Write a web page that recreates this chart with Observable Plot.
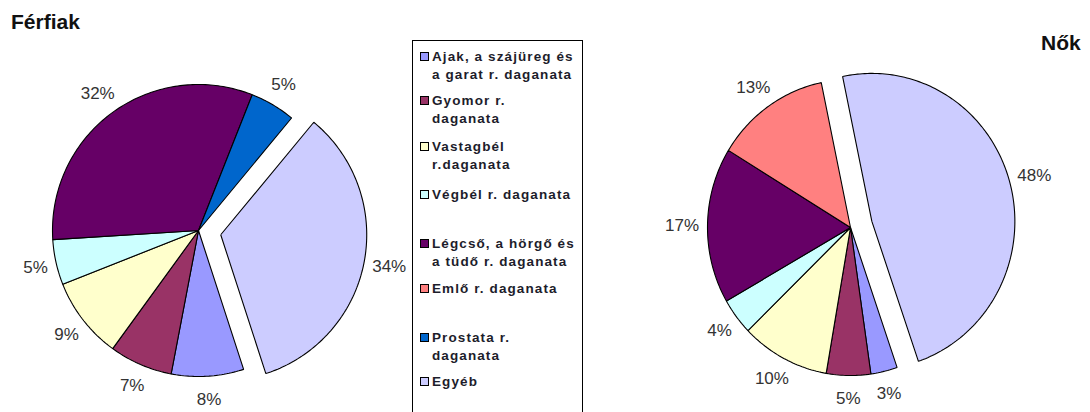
<!DOCTYPE html>
<html><head><meta charset="utf-8">
<script src="https://cdn.jsdelivr.net/npm/d3@7"></script>
<script src="https://cdn.jsdelivr.net/npm/@observablehq/plot@0.6"></script>
<style>
body{margin:0;background:#fff;font-family:"Liberation Sans",Arial,sans-serif;}
#wrap{position:relative;width:1090px;height:412px;overflow:hidden;background:#fff;}
.title{position:absolute;font-weight:bold;font-size:21px;line-height:1;color:#111;}
.pie{position:absolute;top:0;}
#legend{position:absolute;left:412px;top:40px;width:171px;height:390px;border:1px solid #000;box-sizing:border-box;}
.item{position:absolute;left:19px;font-weight:bold;font-size:13.5px;letter-spacing:1.1px;color:#1d1d2b;line-height:17.5px;white-space:nowrap;}
.sw{position:absolute;left:-12px;top:4px;width:7px;height:7px;border:1px solid #000;}
</style></head>
<body><div id="wrap"></div>
<script>
// ---- data ----
const categories = ["Ajak, a szájüreg és a garat r. daganata","Gyomor r. daganata","Vastagbél r.daganata","Végbél r. daganata","Légcső, a hörgő és a tüdő r. daganata","Emlő r. daganata","Prostata r. daganata","Egyéb"];
const legendLines = [["Ajak, a szájüreg és","a garat r. daganata"],["Gyomor r.","daganata"],["Vastagbél","r.daganata"],["Végbél r. daganata"],["Légcső, a hörgő és","a tüdő r. daganata"],["Emlő r. daganata"],["Prostata r.","daganata"],["Egyéb"]];
const colors = ["#9999FF","#993366","#FFFFCC","#CCFFFF","#660066","#FF8080","#0066CC","#CCCCFF"];
const ferfiak = [8,7,9,5,32,0,5,34];
const nok = [3,5,10,4,17,13,0,48];
const exploded = "Egyéb";

// ---- layout ----
const legendTop = [7,51,97,145,194,239,288,332];
const wrap = document.getElementById("wrap");

function drawPie(values, opt){
  const {left, width, cx, cy, rx, ry, startDeg} = opt;
  const start = startDeg*Math.PI/180;
  const arcs = d3.pie().sort(null).startAngle(start).endAngle(start+2*Math.PI)(values);
  const pts = [], labels = [];
  arcs.forEach((a,i)=>{
    if (values[i] <= 0) return;
    const cat = categories[i];
    const mid = (a.startAngle+a.endAngle)/2;
    const off = cat === exploded ? 0.155 : 0;
    const ox = off*Math.sin(mid), oy = off*Math.cos(mid);
    pts.push({cat, x:ox, y:oy});
    const n = Math.max(2, Math.ceil((a.endAngle-a.startAngle)/(Math.PI/180)));
    for (let k=0;k<=n;k++){
      const t = a.startAngle + (a.endAngle-a.startAngle)*k/n;
      pts.push({cat, x:ox+Math.sin(t), y:oy+Math.cos(t)});
    }
    pts.push({cat, x:ox, y:oy});
    const text = values[i]+"%";
    const hw = (text.length===2?13:17.5);   // half label width in px
    const gx = (8+hw)/rx, gy = (16+7)/ry;
    labels.push({x:ox+(1+gx)*Math.sin(mid), y:oy+(1+gy)*Math.cos(mid), text});
  });
  const H = 412;
  const chart = Plot.plot({
    width, height:H, margin:0,
    x:{axis:null, domain:[-(cx-left)/rx, (left+width-cx)/rx]},
    y:{axis:null, domain:[-(H-cy)/ry, cy/ry]},
    color:{domain:categories, range:colors},
    style:{background:"transparent", overflow:"visible"},
    marks:[
      Plot.line(pts,{x:"x", y:"y", z:"cat", fill:"cat", stroke:"#000", strokeWidth:1.1, strokeLinejoin:"miter", strokeLinecap:"butt"}),
      Plot.text(labels,{x:"x", y:"y", text:"text", fontSize:17, fill:"#333", fontFamily:"Liberation Sans, Arial, sans-serif"})
    ]
  });
  chart.classList.add("pie");
  chart.style.left = left+"px";
  wrap.appendChild(chart);
}

drawPie(ferfiak,{left:0, width:410, cx:198, cy:230, rx:146, ry:146, startDeg:162});
drawPie(nok,{left:620, width:470, cx:850, cy:227, rx:143, ry:148, startDeg:161});

const t1 = document.createElement("div"); t1.className="title"; t1.textContent="Férfiak";
t1.style.left="11px"; t1.style.top="11px"; wrap.appendChild(t1);
const t2 = document.createElement("div"); t2.className="title"; t2.textContent="Nők";
t2.style.left="1041px"; t2.style.top="32px"; wrap.appendChild(t2);

const lg = document.createElement("div"); lg.id="legend"; wrap.appendChild(lg);
legendLines.forEach((lines,i)=>{
  const it = document.createElement("div"); it.className="item";
  it.style.top = legendTop[i]+"px";
  const sw = document.createElement("div"); sw.className="sw"; sw.style.background=colors[i];
  it.appendChild(sw);
  lines.forEach((l,j)=>{ if(j) it.appendChild(document.createElement("br")); it.appendChild(document.createTextNode(l)); });
  lg.appendChild(it);
});
</script></body></html>
